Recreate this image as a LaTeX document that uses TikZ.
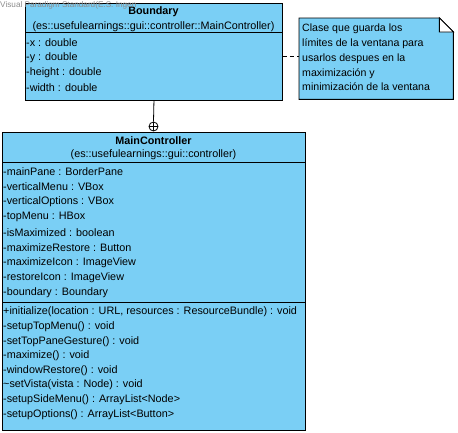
\documentclass[tikz,border=0pt]{standalone}
\usepackage{fontspec}
\setmainfont{Liberation Sans}
\definecolor{classblue}{RGB}{122,207,245}
\definecolor{markgray}{RGB}{140,140,140}
\tikzset{
  classbox/.style={draw, fill=classblue, line width=0.9pt, inner sep=0pt, anchor=north west},
  member/.style={anchor=west, inner sep=0pt, font=\fontsize{10.8}{12}\selectfont},
  classname/.style={inner sep=0pt, font=\bfseries\fontsize{10.8}{12}\selectfont},
  notetext/.style={anchor=west, inner sep=0pt, align=left, font=\fontsize{10.6}{14.75}\selectfont},
  nestmark/.style={circle, draw, fill=white, line width=0.8pt, minimum size=9pt, inner sep=0pt}
}
\begin{document}
\begin{tikzpicture}[x=1pt,y=-1pt]
\useasboundingbox (0,0) rectangle (458,432);

% Boundary class
\node[classbox, minimum width=257pt, minimum height=97pt] (boundary) at (25,3) {};
\draw[line width=0.9pt] (25,32) -- (282,32);
\node[classname] (bname) at (153.5,12) {Boundary};
\node[member, anchor=center] (bpkg) at (153.5,27) {(es::usefulearnings::gui::controller::MainController)};
\foreach \txt [count=\i] in {-x : double, -y : double, -height : double, -width : double}
  \node[member] (battr\i) at (26,{43+14.8*(\i-1)}) {\txt};

% Note
\node[anchor=north west, minimum width=154pt, minimum height=81pt, inner sep=0pt] (note) at (299,18) {};
\filldraw[fill=classblue, line width=0.9pt] (note.north west) -- ([xshift=-14pt]note.north east)
  -- ([yshift=-14pt]note.north east) -- (note.south east) -- (note.south west) -- cycle;
\filldraw[fill=white, line width=0.9pt] ([xshift=-14pt]note.north east) -- ([yshift=-14pt]note.north east)
  -- ([xshift=-14pt,yshift=-14pt]note.north east) -- cycle;
\node[notetext] (ntext) at (302,57.5) {Clase que guarda los\\límites de la ventana para\\usarlos despues en la\\maximización y\\minimización de la ventana};
\draw[dashed, dash pattern=on 4pt off 3pt, line width=0.8pt] (boundary.east |- 0,56) -- (note.west |- 0,56);

% MainController class
\node[classbox, minimum width=303pt, minimum height=298pt] (mainctrl) at (2,132) {};
\draw[line width=0.9pt] (2,162) -- (305,162);
\draw[line width=0.9pt] (2,302) -- (305,302);
\node[classname] (mname) at (153.5,141) {MainController};
\node[member, anchor=center] (mpkg) at (153.5,155) {(es::usefulearnings::gui::controller)};
\foreach \txt [count=\i] in {-mainPane : BorderPane, -verticalMenu : VBox, -verticalOptions : VBox,
    -topMenu : HBox, -isMaximized : boolean, -maximizeRestore : Button, -maximizeIcon : ImageView,
    -restoreIcon : ImageView, -boundary : Boundary}
  \node[member] (mattr\i) at (3,{172+15.1*(\i-1)}) {\txt};
\foreach \txt [count=\i] in {{+initialize(location : URL, resources : ResourceBundle) : void},
    -setupTopMenu() : void, -setTopPaneGesture() : void, -maximize() : void, -windowRestore() : void,
    \textasciitilde setVista(vista : Node) : void, -setupSideMenu() : ArrayList<Node>,
    -setupOptions() : ArrayList<Button>}
  \node[member] (mop\i) at (3,{312+14.6*(\i-1)}) {\txt};

% Nesting connector
\node[nestmark] (nest) at (153.5,126.5) {};
\draw[line width=0.8pt] (boundary.south) -- (nest.north);
\draw[line width=0.8pt] (nest.north) -- (nest.south) (nest.west) -- (nest.east);

% Watermark
\node[anchor=west, inner sep=0pt, text=markgray, font=\fontsize{8.2}{9}\selectfont] (mark) at (0,5) {Visual Paradigm Standard(E.S. Ingen};
\end{tikzpicture}
\end{document}
